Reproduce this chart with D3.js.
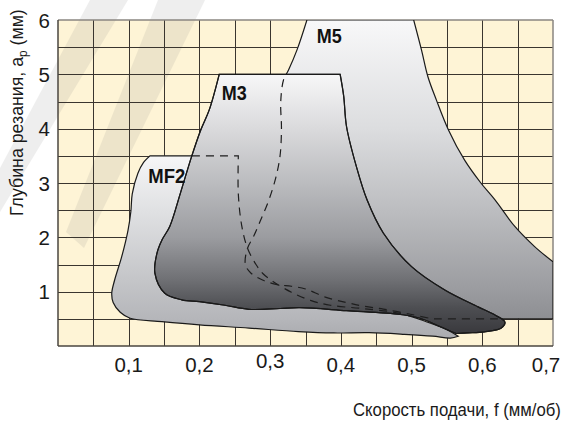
<!DOCTYPE html>
<html><head><meta charset="utf-8">
<script src="https://cdn.jsdelivr.net/npm/d3@7"></script>
<style>body{margin:0;background:#fff}svg{display:block}</style>
</head><body>
<svg id="c" width="568" height="424"></svg>
<script>
// ---- data (feed f in mm/rev, depth ap in mm) ----
const xTickValues = [0.1, 0.2, 0.3, 0.4, 0.5, 0.6, 0.7];
const xTickLabels = ["0,1", "0,2", "0,3", "0,4", "0,5", "0,6", "0,7"];
const yTickValues = [1, 2, 3, 4, 5, 6];
const yTickLabels = ["1", "2", "3", "4", "5", "6"];
const regionNames = ["M5", "MF2", "M3"];
const m5Outline = [[0.352,6],[0.43,6],[0.503,6],[0.514,5.45],[0.523,4.96],[0.535,4.53],[0.552,3.98],[0.575,3.42],[0.598,3.0],[0.618,2.69],[0.646,2.2],[0.674,1.83],[0.7,1.55],[0.7,1.0],[0.7,0.5],[0.62,0.5],[0.529,0.5],[0.5,0.58],[0.46,0.68],[0.431,0.736],[0.408,0.8],[0.378,0.9],[0.35,1.05],[0.33,1.1],[0.31,1.13],[0.29,1.21],[0.273,1.34],[0.265,1.5],[0.268,1.8],[0.276,2.0],[0.286,2.3],[0.298,2.68],[0.308,3.1],[0.314,3.5],[0.316,4.0],[0.315,4.5],[0.319,4.9],[0.326,5.08],[0.338,5.45]];
const mf2Outline = [[0.13,3.5],[0.19,3.5],[0.255,3.5],[0.255,2.8],[0.26,2.2],[0.268,1.8],[0.28,1.5],[0.29,1.33],[0.305,1.18],[0.33,0.99],[0.357,0.84],[0.385,0.75],[0.43,0.69],[0.484,0.6],[0.52,0.45],[0.55,0.3],[0.566,0.18],[0.555,0.145],[0.53,0.18],[0.49,0.215],[0.44,0.245],[0.39,0.24],[0.34,0.265],[0.27,0.33],[0.2,0.39],[0.147,0.45],[0.102,0.51],[0.088,0.62],[0.078,0.8],[0.076,0.97],[0.08,1.21],[0.09,1.64],[0.099,2.13],[0.103,2.47],[0.105,2.8],[0.113,3.18],[0.121,3.38]];
const m3Outline = [[0.228,5],[0.31,5],[0.399,5],[0.404,4.6],[0.408,4.04],[0.422,3.3],[0.437,2.69],[0.46,2.08],[0.5,1.46],[0.547,1.03],[0.594,0.72],[0.618,0.57],[0.632,0.44],[0.627,0.33],[0.603,0.26],[0.58,0.24],[0.563,0.23],[0.54,0.36],[0.512,0.51],[0.484,0.58],[0.408,0.65],[0.342,0.705],[0.314,0.69],[0.27,0.675],[0.236,0.75],[0.2,0.815],[0.175,0.85],[0.151,0.97],[0.137,1.34],[0.14,1.71],[0.147,1.95],[0.158,2.2],[0.173,2.81],[0.189,3.49],[0.202,3.98],[0.214,4.35]];
// sharp corners (indices into the outlines above)
const m5Corners = [0, 2, 12, 14, 16];
const mf2Corners = [0, 2, 16];
const m3Corners = [0, 2, 16];
// label anchors in data units
const regionLabelPos = {M5:[0.366,5.58], M3:[0.2315,4.53], MF2:[0.1277,2.995]};
const xTitle = "Скорость подачи, f (мм/об)";
const yTitleMain = "Глубина резания, a";
const yTitleSub = "p";
const yTitleEnd = " (мм)";

// ---- layout ----
const svg = d3.select("#c");
const L = 58, R = 553, T = 20, B = 346;
const x = d3.scaleLinear().domain([0, 0.7]).range([L, R]);
const y = d3.scaleLinear().domain([0, 6]).range([B, T]);
const defs = svg.append("defs");

defs.append("clipPath").attr("id","plotClip").append("rect")
  .attr("x",L).attr("y",T).attr("width",R-L).attr("height",B-T);

function grad(id, stops){
  const g = defs.append("linearGradient").attr("id",id)
    .attr("gradientUnits","userSpaceOnUse")
    .attr("x1",0).attr("x2",0).attr("y1",y(6)).attr("y2",y(0));
  stops.forEach(s => g.append("stop").attr("offset", (6 - s[0]) / 6).attr("stop-color", s[1]));
}
grad("gM5", [[6,"#f8f8f9"],[4,"#dcdddf"],[2.5,"#bcbdc0"],[1,"#9a9b9f"],[0.4,"#8b8c90"]]);
grad("gMF2", [[3.5,"#f6f6f7"],[2.5,"#e0e1e3"],[1.2,"#c4c5c8"],[0.5,"#b5b6ba"],[0.1,"#a9aaae"]]);
grad("gM3", [[5,"#f7f7f8"],[4,"#dadadc"],[3,"#bbbcbf"],[2,"#9b9ca0"],[1.2,"#6e6f73"],[0.7,"#4d4e52"],[0.3,"#3c3c40"]]);

// background
svg.append("rect").attr("x",L).attr("y",T).attr("width",R-L).attr("height",B-T).attr("fill","#fef4d6");

// faint watermark strokes (screen space, behind the regions)
const wm = svg.append("g").attr("fill","#7a7a7a").attr("opacity",0.12);
wm.append("polygon").attr("points","66,232 84,248 205,0 158,0");
wm.append("polygon").attr("points","0,212 0,168 90,0 128,0");

// grid
const px = v => Math.round(v) + 0.5;
const gx = d3.range(1,14).map(i => i*0.05);
const gy = d3.range(1,12).map(i => i*0.5);
const grid = svg.append("g").attr("stroke","#3a352f").attr("stroke-width",1);
grid.selectAll("line.v").data(gx).join("line").attr("class","v")
  .attr("x1",d=>px(x(d))).attr("x2",d=>px(x(d))).attr("y1",T).attr("y2",B);
grid.selectAll("line.h").data(gy).join("line").attr("class","h")
  .attr("y1",d=>px(y(d))).attr("y2",d=>px(y(d))).attr("x1",L).attr("x2",R);

// frame
svg.append("line").attr("x1",L).attr("x2",R).attr("y1",T).attr("y2",T).attr("stroke","#8a8680").attr("stroke-width",1.5);
svg.append("line").attr("x1",R).attr("x2",R).attr("y1",T).attr("y2",B).attr("stroke","#8a8680").attr("stroke-width",1.5);
svg.append("line").attr("x1",L).attr("x2",R).attr("y1",B).attr("y2",B).attr("stroke","#4a463f").attr("stroke-width",1.5);
svg.append("line").attr("x1",L).attr("x2",L).attr("y1",T).attr("y2",B).attr("stroke","#4a463f").attr("stroke-width",1.5);

// smooth outline with sharp corners: split at corners, Catmull-Rom within each piece
const seg = d3.line().x(d=>x(d[0])).y(d=>y(d[1])).curve(d3.curveCatmullRom.alpha(0.5));
function outlinePath(pts, corners){
  const n = pts.length;
  let d = "";
  corners.forEach((c, k) => {
    const next = corners[(k+1) % corners.length];
    const piece = [];
    let i = c;
    piece.push(pts[i]);
    do { i = (i+1) % n; piece.push(pts[i]); } while (i !== next);
    let s = seg(piece);
    if (k > 0) s = "L" + s.slice(1);
    d += s;
  });
  return d + "Z";
}
const outlines = {M5: outlinePath(m5Outline, m5Corners), MF2: outlinePath(mf2Outline, mf2Corners), M3: outlinePath(m3Outline, m3Corners)};
const grads = {M5:"url(#gM5)", MF2:"url(#gMF2)", M3:"url(#gM3)"};

const shapes = svg.append("g").attr("clip-path","url(#plotClip)");
regionNames.forEach(n => {
  shapes.append("path").attr("d", outlines[n])
    .attr("fill", grads[n]).attr("stroke","#1a1a1a").attr("stroke-width",1.2).attr("stroke-linejoin","miter");
});

// hidden outlines (dashed) seen through M3
defs.append("clipPath").attr("id","m3Clip").append("path").attr("d", outlines.M3);
const hidden = svg.append("g").attr("clip-path","url(#m3Clip)");
["M5","MF2"].forEach(n => {
  hidden.append("path").attr("d", outlines[n]).attr("fill","none")
    .attr("stroke","#1e1e1e").attr("stroke-width",1.2).attr("stroke-dasharray","8,6");
});
svg.append("path").attr("d", outlines.M3).attr("fill","none").attr("stroke","#1a1a1a").attr("stroke-width",1.2);

// region labels
const font = "Liberation Sans, Arial, sans-serif";
regionNames.forEach(n => {
  const p = regionLabelPos[n];
  svg.append("text").attr("x", x(p[0])).attr("y", y(p[1]))
    .attr("font-family",font).attr("font-weight","bold")
    .attr("font-size",20).attr("fill","#111")
    .attr("textLength", n === "MF2" ? 37 : 25).attr("lengthAdjust","spacingAndGlyphs")
    .text(n);
});

// tick labels
svg.selectAll("text.xt").data(xTickValues).join("text").attr("class","xt")
  .attr("x", (d,i) => i === xTickValues.length-1 ? x(d) - 7 : x(d))
  .attr("y", (d,i) => i === 2 ? 368 : 372)
  .attr("text-anchor","middle").attr("font-family",font).attr("font-size",20.5).attr("fill","#1a1a1a")
  .text((d,i) => xTickLabels[i]);
svg.selectAll("text.yt").data(yTickValues).join("text").attr("class","yt")
  .attr("x", 50).attr("y", d => y(d) + 7.5)
  .attr("text-anchor","end").attr("font-family",font).attr("font-size",20.5).attr("fill","#1a1a1a")
  .text((d,i) => yTickLabels[i]);

// axis titles
const xt = svg.append("text").attr("x",0).attr("y",0)
  .attr("font-family",font).attr("font-size",17.5).attr("fill","#1a1a1a").text(xTitle);
const xw = xt.node().getComputedTextLength();
xt.attr("transform", `translate(${561 - 208},416) scale(${208/xw},1)`);
const yt = svg.append("text").attr("transform","translate(23,216) rotate(-90)")
  .attr("font-family",font).attr("font-size",18).attr("fill","#1a1a1a");
yt.append("tspan").text(yTitleMain);
yt.append("tspan").attr("font-size",12).attr("dy",4).text(yTitleSub);
yt.append("tspan").attr("dy",-4).text(yTitleEnd);
const bb = yt.node().getComputedTextLength();
yt.attr("transform", `translate(23,216) rotate(-90) scale(${207/bb},1)`);
</script>
</body></html>
